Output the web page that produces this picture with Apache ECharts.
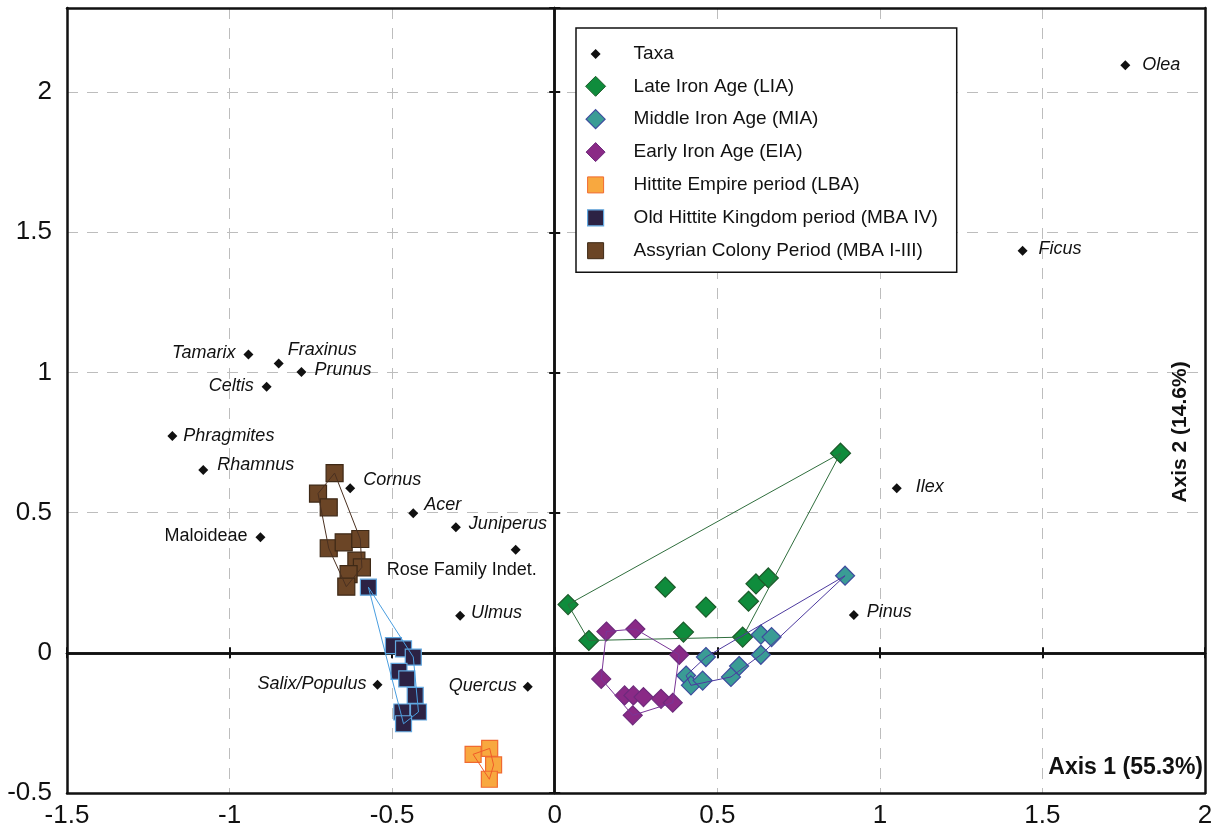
<!DOCTYPE html>
<html>
<head>
<meta charset="utf-8">
<script src="https://cdn.jsdelivr.net/npm/echarts@6/dist/echarts.min.js"></script>
<style>html,body{margin:0;padding:0;background:#fff}#c{width:1226px;height:837px}</style>
</head>
<body>
<div id="c"></div>
<script>
// ---------------- DATA ----------------
const xTickLabels = [-1.5, -1, -0.5, 0, 0.5, 1, 1.5, 2];
const yTickLabels = [-0.5, 0, 0.5, 1, 1.5, 2];

const taxaNames = ['Olea','Ficus','Ilex','Pinus','Tamarix','Fraxinus','Prunus','Celtis','Phragmites','Rhamnus','Cornus','Acer','Juniperus','Maloideae','Rose Family Indet.','Ulmus','Salix/Populus','Quercus'];
const taxaX = [1.755, 1.439, 1.052, 0.920, -0.942, -0.849, -0.779, -0.886, -1.176, -1.081, -0.629, -0.435, -0.304, -0.905, -0.120, -0.291, -0.545, -0.083];
const taxaY = [2.096, 1.434, 0.587, 0.135, 1.064, 1.032, 1.002, 0.949, 0.773, 0.652, 0.587, 0.498, 0.448, 0.412, 0.368, 0.132, -0.114, -0.121];

const liaX = [0.879, 0.041, 0.105, 0.340, 0.465, 0.396, 0.596, 0.619, 0.657, 0.578];
const liaY = [0.712, 0.172, 0.044, 0.234, 0.163, 0.074, 0.184, 0.246, 0.267, 0.056];

const miaX = [0.893, 0.634, 0.667, 0.634, 0.465, 0.567, 0.542, 0.404, 0.419, 0.455];
const miaY = [0.275, 0.065, 0.056, -0.007, -0.015, -0.047, -0.086, -0.081, -0.116, -0.099];

const eiaX = [0.159, 0.248, 0.383, 0.143, 0.215, 0.242, 0.273, 0.327, 0.363, 0.240];
const eiaY = [0.076, 0.085, -0.007, -0.093, -0.152, -0.152, -0.158, -0.164, -0.178, -0.223];

const lbaX = [-0.251, -0.200, -0.188, -0.201];
const lbaY = [-0.362, -0.341, -0.400, -0.451];

const mba4X = [-0.573, -0.496, -0.465, -0.435, -0.479, -0.455, -0.429, -0.470, -0.419, -0.465];
const mba4Y = [0.234, 0.026, 0.014, -0.015, -0.066, -0.093, -0.152, -0.211, -0.211, -0.253];

const mba13X = [-0.677, -0.728, -0.695, -0.695, -0.649, -0.598, -0.610, -0.593, -0.634, -0.641];
const mba13Y = [0.641, 0.568, 0.519, 0.373, 0.394, 0.406, 0.329, 0.305, 0.281, 0.236];

// ---------------- STYLE ----------------
const FONT = 'Liberation Sans, Arial, sans-serif';
const italicTaxa = {'Maloideae': false, 'Rose Family Indet.': false};
// label placement per taxon: [position, dx, dy]
const taxaLabelPlace = {
  'Olea': ['right', 4, 0], 'Ficus': ['right', 3, -2], 'Ilex': ['right', 6, -1], 'Pinus': ['right', 0, -3],
  'Tamarix': ['left', 0, -2], 'Fraxinus': ['right', -4, -13], 'Prunus': ['right', 0, -2], 'Celtis': ['left', 0, -1],
  'Phragmites': ['right', -2, 0], 'Rhamnus': ['right', 1, -5], 'Cornus': ['right', 0, -8], 'Acer': ['right', -2, -8],
  'Juniperus': ['right', 0, -3], 'Maloideae': ['left', 0, -1], 'Rose Family Indet.': ['bottom', -54, -2],
  'Ulmus': ['right', -2, -3], 'Salix/Populus': ['left', 2, -1], 'Quercus': ['left', 2, -1]
};

function zip(xs, ys) { return xs.map((x, i) => [x, ys[i]]); }
function hull(pts) {
  const p = pts.slice().sort((a, b) => a[0] - b[0] || a[1] - b[1]);
  const cross = (o, a, b) => (a[0]-o[0])*(b[1]-o[1]) - (a[1]-o[1])*(b[0]-o[0]);
  const lower = [], upper = [];
  for (const q of p) { while (lower.length >= 2 && cross(lower[lower.length-2], lower[lower.length-1], q) <= 0) lower.pop(); lower.push(q); }
  for (let i = p.length - 1; i >= 0; i--) { const q = p[i]; while (upper.length >= 2 && cross(upper[upper.length-2], upper[upper.length-1], q) <= 0) upper.pop(); upper.push(q); }
  upper.pop(); lower.pop();
  const h = lower.concat(upper);
  h.push(h[0]);
  return h;
}

const groups = [
  {name: 'Assyrian Colony Period (MBA I-III)', x: mba13X, y: mba13Y, symbol: 'rect', size: 17, fill: '#6b4526', border: '#3e2916', line: '#4a3020'},
  {name: 'Old Hittite Kingdom period (MBA IV)', x: mba4X, y: mba4Y, symbol: 'rect', size: 16, fill: '#2c2244', border: '#62a8e0', line: '#4a9ee0'},
  {name: 'Hittite Empire period (LBA)', x: lbaX, y: lbaY, symbol: 'rect', size: 16, fill: '#f8a83f', border: '#f06a30', line: '#f05a28'},
  {name: 'Late Iron Age (LIA)', x: liaX, y: liaY, symbol: 'diamond', size: 20, fill: '#0f8c3c', border: '#1c5a2a', line: '#2f6e3d'},
  {name: 'Early Iron Age (EIA)', x: eiaX, y: eiaY, symbol: 'diamond', size: 19, fill: '#8a2a86', border: '#6e2a7c', line: '#7a3597'},
  {name: 'Middle Iron Age (MIA)', x: miaX, y: miaY, symbol: 'diamond', size: 19, fill: '#3a9c95', border: '#3d4c9e', line: '#4d3a9f'}
];

const series = [];
series.push({
  name: 'Taxa', type: 'scatter', symbol: 'diamond', symbolSize: 10,
  itemStyle: {color: '#111', opacity: 1}, z: 2,
  data: taxaNames.map((n, i) => {
    const pl = taxaLabelPlace[n];
    return {
      name: n, value: [taxaX[i], taxaY[i]],
      label: {show: true, position: pl[0], offset: [pl[1], pl[2]], distance: 8,
        fontStyle: italicTaxa[n] === false ? 'normal' : 'italic'}
    };
  }),
  label: {show: true, formatter: '{b}', fontSize: 18, color: '#111', fontFamily: FONT}
});
groups.forEach(g => {
  series.push({
    name: g.name, type: 'scatter', symbol: g.symbol, symbolSize: g.size, z: 3,
    itemStyle: {color: g.fill, borderColor: g.border, borderWidth: 1.2, opacity: 1},
    data: zip(g.x, g.y)
  });
});
groups.forEach(g => {
  series.push({
    name: 'hull ' + g.name, type: 'line', symbol: 'none', z: 4, silent: true,
    lineStyle: {color: g.line, width: 1},
    data: hull(zip(g.x, g.y))
  });
});

const frameLine = {color: '#111', width: 2.5};
const common = {type: 'value', min: -1.5, max: 2, interval: 0.5};
const commonY = {type: 'value', min: -0.5, max: 2.3, interval: 0.5};
const tickStyle = {color: '#111', width: 2};

const option = {
  animation: false,
  backgroundColor: '#fff',
  grid: {left: 67, right: 21, top: 8, bottom: 44, show: false},
  xAxis: [
    Object.assign({}, common, {position: 'bottom', axisLine: {onZero: false, lineStyle: frameLine}, axisTick: {show: false},
      axisLabel: {fontSize: 26, color: '#111', margin: 10, fontFamily: FONT},
      splitLine: {show: true, lineStyle: {color: '#bdbdbd', type: [11, 9], width: 1}}}),
    Object.assign({}, common, {position: 'top', axisLine: {onZero: false, lineStyle: frameLine}, axisTick: {show: false}, axisLabel: {show: false}, splitLine: {show: false}}),
    Object.assign({}, common, {position: 'bottom', axisLine: {onZero: true, onZeroAxisIndex: 0, lineStyle: {color: '#111', width: 2.5}}, axisTick: {show: true, inside: false, length: 5.5, lineStyle: tickStyle}, axisLabel: {show: false}, splitLine: {show: false}}),
    Object.assign({}, common, {position: 'bottom', axisLine: {onZero: true, onZeroAxisIndex: 0, lineStyle: {color: '#111', width: 2.5}}, axisTick: {show: true, inside: true, length: 5.5, lineStyle: tickStyle}, axisLabel: {show: false}, splitLine: {show: false}})
  ],
  yAxis: [
    Object.assign({}, commonY, {position: 'left', axisLine: {onZero: false, lineStyle: frameLine}, axisTick: {show: false},
      axisLabel: {fontSize: 26, color: '#111', margin: 15, fontFamily: FONT, showMaxLabel: false},
      splitLine: {show: true, lineStyle: {color: '#bdbdbd', type: [11, 9], width: 1}}}),
    Object.assign({}, commonY, {position: 'right', axisLine: {onZero: false, lineStyle: frameLine}, axisTick: {show: false}, axisLabel: {show: false}, splitLine: {show: false}}),
    Object.assign({}, commonY, {position: 'left', axisLine: {onZero: true, onZeroAxisIndex: 0, lineStyle: {color: '#111', width: 2.5}}, axisTick: {show: true, inside: false, length: 5.5, lineStyle: tickStyle}, axisLabel: {show: false}, splitLine: {show: false}}),
    Object.assign({}, commonY, {position: 'left', axisLine: {onZero: true, onZeroAxisIndex: 0, lineStyle: {color: '#111', width: 2.5}}, axisTick: {show: true, inside: true, length: 5.5, lineStyle: tickStyle}, axisLabel: {show: false}, splitLine: {show: false}})
  ],
  legend: {
    orient: 'vertical', left: 576, top: 28, padding: [16, 19, 11, 9],
    itemWidth: 20, itemHeight: 20, itemGap: 11.8,
    backgroundColor: '#fff', borderColor: '#111', borderWidth: 1.5, borderRadius: 0,
    selectedMode: false,
    textStyle: {fontSize: 19, color: '#111', fontFamily: FONT, padding: [0, 0, 0, 23]},
    data: [
      {name: 'Taxa', icon: 'path://M0,0M20,20M5,10L10,5L15,10L10,15Z', itemStyle: {color: '#111', borderWidth: 0}},
      {name: 'Late Iron Age (LIA)', icon: 'diamond', itemStyle: {color: '#0f8c3c', borderColor: '#1c5a2a', borderWidth: 1}},
      {name: 'Middle Iron Age (MIA)', icon: 'path://M0,0M20,20M10,0.5L19.5,10L10,19.5L0.5,10Z', itemStyle: {color: '#3a9c95', borderColor: '#3d4c9e', borderWidth: 1.2}},
      {name: 'Early Iron Age (EIA)', icon: 'path://M0,0M20,20M10,0.5L19.5,10L10,19.5L0.5,10Z', itemStyle: {color: '#8a2a86', borderColor: '#6e2a7c', borderWidth: 1}},
      {name: 'Hittite Empire period (LBA)', icon: 'path://M0,0M20,20M2,2L18,2L18,18L2,18Z', itemStyle: {color: '#f8a83f', borderColor: '#f06a30', borderWidth: 1}},
      {name: 'Old Hittite Kingdom period (MBA IV)', icon: 'path://M0,0M20,20M2,2L18,2L18,18L2,18Z', itemStyle: {color: '#2c2244', borderColor: '#62a8e0', borderWidth: 1.2}},
      {name: 'Assyrian Colony Period (MBA I-III)', icon: 'path://M0,0M20,20M2,2L18,2L18,18L2,18Z', itemStyle: {color: '#6b4526', borderColor: '#3e2916', borderWidth: 1}}
    ]
  },
  graphic: [
    {type: 'text', x: 1203, y: 768, z: 10,
      style: {text: 'Axis 1 (55.3%)', align: 'right', verticalAlign: 'middle', fontSize: 23, fontWeight: 'bold', fontFamily: FONT, fill: '#111'}},
    {type: 'text', x: 1180, y: 432, rotation: Math.PI / 2, z: 10,
      style: {text: 'Axis 2 (14.6%)', align: 'center', verticalAlign: 'middle', fontSize: 21, fontWeight: 'bold', fontFamily: FONT, fill: '#111'}}
  ],
  series: series
};

const chart = echarts.init(document.getElementById('c'), null, {renderer: 'canvas'});
chart.setOption(option);
</script>
</body>
</html>
